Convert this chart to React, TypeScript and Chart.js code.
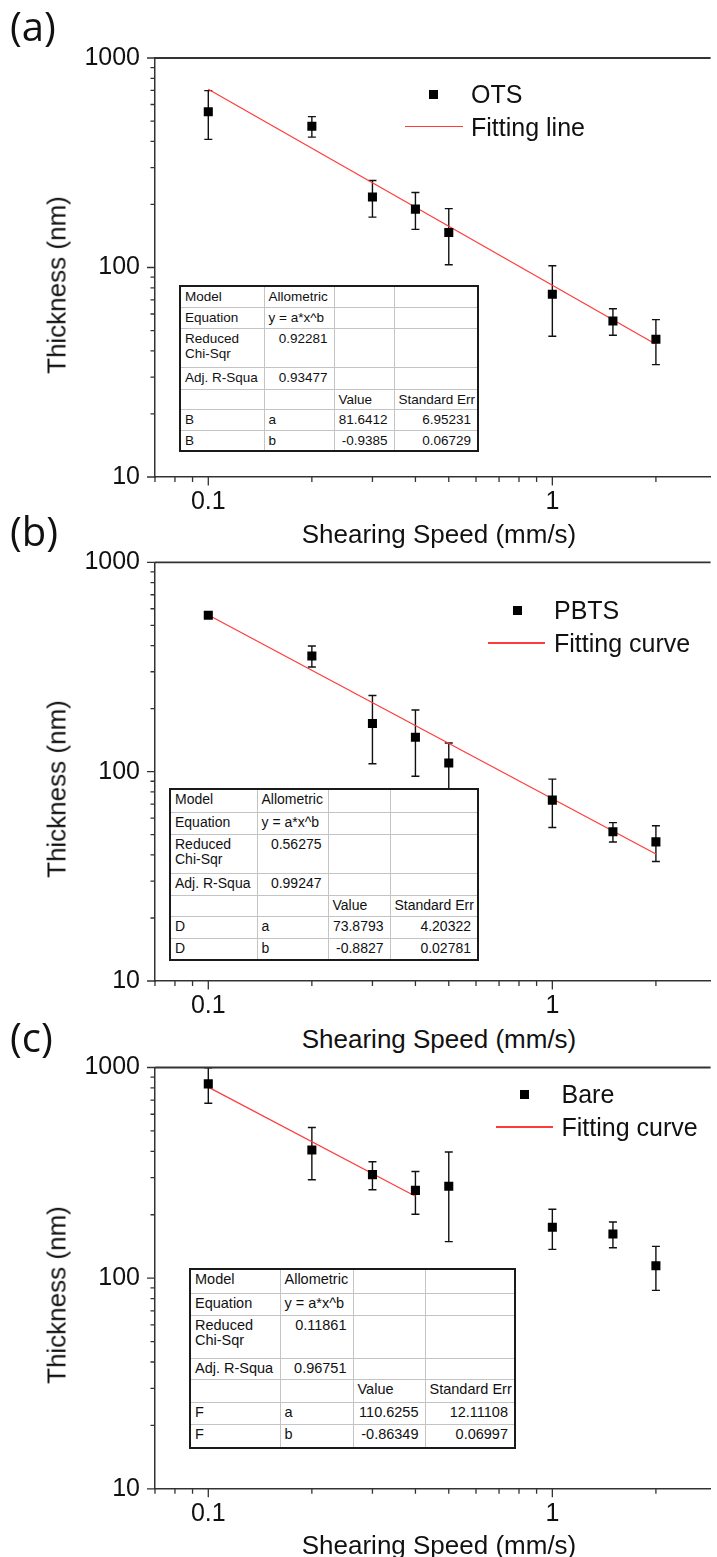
import React, { useEffect, useRef } from 'react';
import { Chart, registerables } from 'chart.js';

Chart.register(...registerables);

// ---------------- data ----------------
const speeds = [0.1, 0.2, 0.3, 0.4, 0.5, 1, 1.5, 2];

const otsThickness = [554, 472, 217, 190, 147, 74.5, 55.5, 45.4];
const otsError = [145, 53, 43, 38, 44, 27.5, 8, 11];
const otsFitSpeed = [0.1, 2];
const otsFitThickness = [709, 43];

const pbtsThickness = [558, 357, 170, 146, 110, 73.1, 51.6, 46.2];
const pbtsError = [15, 41, 61, 51, 27, 19, 5.5, 9];
const pbtsFitSpeed = [0.1, 2];
const pbtsFitThickness = [560, 40.4];

const bareThickness = [836, 406, 310, 261, 273, 174.6, 162, 114.5];
const bareError = [160, 113, 47, 60, 124, 37.7, 22.6, 27];
const bareFitSpeed = [0.1, 0.4];
const bareFitThickness = [807, 245];

const xMajorTicks = [0.1, 1];
const xMajorLabels = ['0.1', '1'];
const xMinorTicks = [0.07, 0.08, 0.09, 0.2, 0.3, 0.4, 0.5, 0.6, 0.7, 0.8, 0.9, 2];
const yMajorTicks = [10, 100, 1000];
const yMajorLabels = ['10', '100', '1000'];
const yMinorTicks = [20, 30, 40, 50, 60, 70, 80, 90, 200, 300, 400, 500, 600, 700, 800, 900];

const xMin = 0.07;
const xMax = 2.884;
const yMin = 10;
const yMax = 1000;

const otsTable = [
  ['Model', 'Allometric', '', ''],
  ['Equation', 'y = a*x^b', '', ''],
  ['Reduced\nChi-Sqr', '0.92281', '', ''],
  ['Adj. R-Squa', '0.93477', '', ''],
  ['', '', 'Value', 'Standard Err'],
  ['B', 'a', '81.6412', '6.95231'],
  ['B', 'b', '-0.9385', '0.06729'],
];
const pbtsTable = [
  ['Model', 'Allometric', '', ''],
  ['Equation', 'y = a*x^b', '', ''],
  ['Reduced\nChi-Sqr', '0.56275', '', ''],
  ['Adj. R-Squa', '0.99247', '', ''],
  ['', '', 'Value', 'Standard Err'],
  ['D', 'a', '73.8793', '4.20322'],
  ['D', 'b', '-0.8827', '0.02781'],
];
const bareTable = [
  ['Model', 'Allometric', '', ''],
  ['Equation', 'y = a*x^b', '', ''],
  ['Reduced\nChi-Sqr', '0.11861', '', ''],
  ['Adj. R-Squa', '0.96751', '', ''],
  ['', '', 'Value', 'Standard Err'],
  ['F', 'a', '110.6255', '12.11108'],
  ['F', 'b', '-0.86349', '0.06997'],
];

const xTitle = 'Shearing Speed (mm/s)';
const yTitle = 'Thickness (nm)';

// ---------------- layout ----------------
const FONT = '"Liberation Sans", Arial, sans-serif';
const PAGE_W = 717;
const AXIS_LEFT = 155;
const FIT_COLOR = '#ff3b3b';

const panels = [
  {
    label: '(a)', name: 'OTS', fitName: 'Fitting line',
    thickness: otsThickness, error: otsError, fitX: otsFitSpeed, fitY: otsFitThickness, table: otsTable,
    canvasTop: 0, canvasHeight: 520, plotTop: 58, plotBottom: 477,
    labelTop: 6, yTitleY: 285, xTitleY: 533.7,
    legend: { markerX: 433.8, textX: 471, row1Y: 94, row2Y: 126.7, lineX1: 405, lineX2: 463 },
    tbl: { left: 179, top: 285, cols: [84, 70, 60, 84], rows: [21, 21, 39, 22, 20, 21, 21], font: 13.5 },
  },
  {
    label: '(b)', name: 'PBTS', fitName: 'Fitting curve',
    thickness: pbtsThickness, error: pbtsError, fitX: pbtsFitSpeed, fitY: pbtsFitThickness, table: pbtsTable,
    canvasTop: 520, canvasHeight: 500, plotTop: 562.3, plotBottom: 981,
    labelTop: 511, yTitleY: 789, xTitleY: 1038.5,
    legend: { markerX: 517.6, textX: 554, row1Y: 610.3, row2Y: 643, lineX1: 488, lineX2: 545 },
    tbl: { left: 169, top: 788.3, cols: [87, 71, 62, 88], rows: [23.4, 21.6, 39, 22, 21.7, 21.7, 21.3], font: 14 },
  },
  {
    label: '(c)', name: 'Bare', fitName: 'Fitting curve',
    thickness: bareThickness, error: bareError, fitX: bareFitSpeed, fitY: bareFitThickness, table: bareTable,
    canvasTop: 1020, canvasHeight: 537, plotTop: 1067.5, plotBottom: 1488.8,
    labelTop: 1017, yTitleY: 1295, xTitleY: 1545,
    legend: { markerX: 524.5, textX: 561.5, row1Y: 1094, row2Y: 1127.2, lineX1: 496, lineX2: 553 },
    tbl: { left: 189, top: 1267.5, cols: [90, 73, 72, 90], rows: [25, 21.5, 43, 21, 23, 22, 24], font: 14.5 },
  },
];

const decorPlugin = {
  id: 'decor',
  beforeDatasetsDraw(chart: any) {
    const ctx = chart.ctx;
    const xs = chart.scales.x;
    const ys = chart.scales.y;
    chart.data.datasets.forEach((ds: any) => {
      if (!ds.errors) return;
      ctx.save();
      ctx.strokeStyle = '#111';
      ctx.lineWidth = 1.4;
      ds.data.forEach((p: any, i: number) => {
        const e = ds.errors[i];
        const px = xs.getPixelForValue(p.x);
        const top = ys.getPixelForValue(p.y + e);
        const bot = ys.getPixelForValue(Math.max(p.y - e, yMin * 0.5));
        ctx.beginPath();
        ctx.moveTo(px, top);
        ctx.lineTo(px, bot);
        ctx.moveTo(px - 4, top);
        ctx.lineTo(px + 4, top);
        ctx.moveTo(px - 4, bot);
        ctx.lineTo(px + 4, bot);
        ctx.stroke();
      });
      ctx.restore();
    });
  },
  afterDraw(chart: any) {
    const { ctx, chartArea } = chart;
    const xs = chart.scales.x;
    const ys = chart.scales.y;
    ctx.save();
    ctx.strokeStyle = '#333';
    ctx.lineWidth = 1.3;
    ctx.beginPath();
    const xTick = (v: number, len: number) => {
      const px = xs.getPixelForValue(v);
      ctx.moveTo(px, chartArea.bottom);
      ctx.lineTo(px, chartArea.bottom + len);
    };
    const yTick = (v: number, len: number) => {
      const py = ys.getPixelForValue(v);
      ctx.moveTo(chartArea.left, py);
      ctx.lineTo(chartArea.left - len, py);
    };
    xMajorTicks.forEach((v) => xTick(v, 8.5));
    xMinorTicks.forEach((v) => xTick(v, 5));
    yMajorTicks.forEach((v) => yTick(v, 8));
    yMinorTicks.forEach((v) => yTick(v, 4.5));
    ctx.stroke();
    ctx.lineWidth = 1.8;
    ctx.beginPath();
    ctx.moveTo(chartArea.left, chartArea.top);
    ctx.lineTo(chartArea.right, chartArea.top);
    ctx.stroke();
    ctx.restore();
  },
};

function Panel({ p }: { p: any }) {
  const ref = useRef<HTMLCanvasElement | null>(null);
  useEffect(() => {
    if (!ref.current) return;
    const padTop = p.plotTop - p.canvasTop;
    const xAxisH = p.canvasTop + p.canvasHeight - p.plotBottom;
    const chart = new Chart(ref.current, {
      type: 'scatter',
      data: {
        datasets: [
          {
            type: 'line',
            label: p.fitName,
            data: p.fitX.map((x: number, i: number) => ({ x, y: p.fitY[i] })),
            borderColor: FIT_COLOR,
            borderWidth: 1.2,
            pointRadius: 0,
            fill: false,
            order: 2,
          } as any,
          {
            type: 'scatter',
            label: p.name,
            data: speeds.map((x, i) => ({ x, y: p.thickness[i] })),
            errors: p.error,
            pointStyle: 'rect',
            pointRadius: 6.4,
            backgroundColor: '#000',
            borderColor: '#000',
            borderWidth: 0,
            order: 1,
          } as any,
        ],
      },
      options: {
        responsive: false,
        maintainAspectRatio: false,
        animation: false,
        layout: { padding: { top: padTop, left: 0, right: 0, bottom: 0 } },
        plugins: { legend: { display: false }, tooltip: { enabled: false } },
        scales: {
          x: {
            type: 'logarithmic',
            position: 'bottom',
            min: xMin,
            max: xMax,
            afterBuildTicks: (s: any) => {
              s.ticks = [...xMinorTicks, ...xMajorTicks].sort((a, b) => a - b).map((v) => ({ value: v }));
            },
            afterFit: (s: any) => {
              s.height = xAxisH;
            },
            ticks: {
              autoSkip: false,
              maxRotation: 0,
              minRotation: 0,
              padding: 2,
              color: '#111',
              font: { family: FONT, size: 25 },
              callback: (v: any) => {
                const i = xMajorTicks.indexOf(Number(v));
                return i >= 0 ? xMajorLabels[i] : '';
              },
            },
            grid: { display: true, drawOnChartArea: false, drawTicks: true, tickLength: 8, tickColor: 'rgba(0,0,0,0)' },
            border: { display: true, color: '#333', width: 1.5 },
          },
          y: {
            type: 'logarithmic',
            position: 'left',
            min: yMin,
            max: yMax,
            afterBuildTicks: (s: any) => {
              s.ticks = [...yMinorTicks, ...yMajorTicks].sort((a, b) => a - b).map((v) => ({ value: v }));
            },
            afterFit: (s: any) => {
              s.width = AXIS_LEFT;
            },
            ticks: {
              autoSkip: false,
              padding: 7,
              color: '#111',
              font: { family: FONT, size: 25 },
              callback: (v: any) => {
                const i = yMajorTicks.indexOf(Number(v));
                return i >= 0 ? yMajorLabels[i] : '';
              },
            },
            grid: { display: true, drawOnChartArea: false, drawTicks: true, tickLength: 8, tickColor: 'rgba(0,0,0,0)' },
            border: { display: true, color: '#333', width: 1.5 },
          },
        },
      } as any,
      plugins: [decorPlugin],
    });
    return () => chart.destroy();
  }, [p]);

  const lg = p.legend;
  const t = p.tbl;
  const isNum = (s: string) => /^-?[\d.]+$/.test(s);
  return (
    <>
      <canvas
        ref={ref}
        width={PAGE_W}
        height={p.canvasHeight}
        style={{ position: 'absolute', left: 0, top: p.canvasTop, width: PAGE_W, height: p.canvasHeight }}
      />
      <div style={{ position: 'absolute', left: 10, top: p.labelTop, font: '40px "Open Sans", sans-serif', lineHeight: 1, color: '#111' }}>
        {p.label}
      </div>
      <div
        style={{
          position: 'absolute', left: 57, top: p.yTitleY, transform: 'translate(-50%, -50%) rotate(-90deg)',
          font: `26px ${FONT}`, whiteSpace: 'nowrap', color: '#111',
        }}
      >
        {yTitle}
      </div>
      <div
        style={{
          position: 'absolute', left: 439, top: p.xTitleY, transform: 'translate(-50%, -50%)',
          font: `26px ${FONT}`, whiteSpace: 'nowrap', color: '#111',
        }}
      >
        {xTitle}
      </div>
      {/* legend */}
      <div style={{ position: 'absolute', left: lg.markerX - 4.5, top: lg.row1Y - 4.5, width: 9, height: 9, background: '#000' }} />
      <div style={{ position: 'absolute', left: lg.textX, top: lg.row1Y, transform: 'translateY(-50%)', font: `25px ${FONT}`, lineHeight: 1, whiteSpace: 'nowrap', color: '#111' }}>
        {p.name}
      </div>
      <div style={{ position: 'absolute', left: lg.lineX1, top: lg.row2Y - 0.75, width: lg.lineX2 - lg.lineX1, height: 1.5, background: FIT_COLOR }} />
      <div style={{ position: 'absolute', left: lg.textX, top: lg.row2Y, transform: 'translateY(-50%)', font: `25px ${FONT}`, lineHeight: 1, whiteSpace: 'nowrap', color: '#111' }}>
        {p.fitName}
      </div>
      {/* fit table */}
      <table
        style={{
          position: 'absolute', left: t.left, top: t.top,
          width: t.cols.reduce((a: number, b: number) => a + b, 0),
          height: t.rows.reduce((a: number, b: number) => a + b, 0),
          borderCollapse: 'collapse', tableLayout: 'fixed', background: '#fff',
          border: '2px solid #1a1a1a', font: `${t.font}px ${FONT}`, color: '#111',
        }}
      >
        <colgroup>
          {t.cols.map((w: number, i: number) => (
            <col key={i} style={{ width: w }} />
          ))}
        </colgroup>
        <tbody>
          {p.table.map((row: string[], ri: number) => (
            <tr key={ri} style={{ height: t.rows[ri] }}>
              {row.map((cell, ci) => (
                <td
                  key={ci}
                  style={{
                    border: '1px solid #c4c4c4', padding: '2px 6px 0 4px', verticalAlign: 'top',
                    lineHeight: '15px', whiteSpace: 'pre', overflow: 'hidden',
                    textAlign: isNum(cell) ? 'right' : 'left',
                  }}
                >
                  {cell}
                </td>
              ))}
            </tr>
          ))}
        </tbody>
      </table>
    </>
  );
}

export default function App() {
  useEffect(() => {
    document.body.style.margin = '0';
  }, []);
  return (
    <div style={{ position: 'absolute', left: 0, top: 0, width: PAGE_W, height: 1557, overflow: 'hidden', background: '#fff' }}>
      {panels.map((p, i) => (
        <Panel key={i} p={p} />
      ))}
    </div>
  );
}
